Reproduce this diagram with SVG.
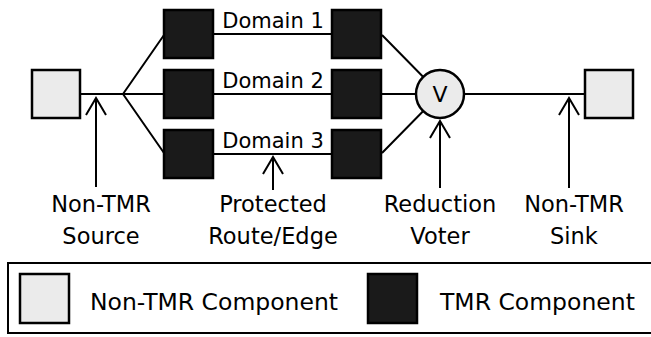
<svg xmlns="http://www.w3.org/2000/svg" width="651" height="337" viewBox="0 0 651 337">
<style>
.tmr{fill:#1a1a1a;stroke:#000;stroke-width:2.5}
.non{fill:#ebebeb;stroke:#000;stroke-width:2.5}
.wire{stroke:#000;stroke-width:2;fill:none}
.arr{stroke:#000;stroke-width:2;fill:none;marker-end:url(#open)}
text{font-family:"DejaVu Sans",sans-serif;fill:#000}
.dom{font-size:21px;text-anchor:middle}
.lbl{font-size:22.5px;text-anchor:middle}
.leg{font-size:23.5px}
</style>
<defs>
<marker id="open" markerUnits="userSpaceOnUse" markerWidth="40" markerHeight="40" refX="0" refY="0" orient="auto" overflow="visible">
<path d="M-17,-10 L0,0 L-17,10" fill="none" stroke="#000" stroke-width="2"/>
</marker>
</defs>
<g id="connectors">
<path class="wire" d="M80,94 H164 M123,94 L164,35 M123,94 L164,153"/>
<path class="wire" d="M214,34 H332 M214,94 H332 M214,154 H332"/>
<path class="wire" d="M382,35 L440,94 M382,94 H440 M382,153 L440,94 M440,94 H585"/>
<path class="arr" d="M96,187 V98"/>
<path class="arr" d="M273,190 V157"/>
<path class="arr" d="M440,188 V121"/>
<path class="arr" d="M569,188 V98"/>
</g>
<g id="source"><rect class="non" x="32" y="70" width="48" height="48"/></g>
<g id="tmr-a1"><rect class="tmr" x="164" y="10" width="49" height="48"/></g>
<g id="tmr-a2"><rect class="tmr" x="164" y="70" width="49" height="48"/></g>
<g id="tmr-a3"><rect class="tmr" x="164" y="130" width="49" height="48"/></g>
<g id="tmr-b1"><rect class="tmr" x="332" y="10" width="49" height="48"/></g>
<g id="tmr-b2"><rect class="tmr" x="332" y="70" width="49" height="48"/></g>
<g id="tmr-b3"><rect class="tmr" x="332" y="130" width="49" height="48"/></g>
<g id="voter"><circle class="non" cx="440" cy="94" r="24"/><text x="440" y="102" style="font-size:22px;text-anchor:middle">V</text></g>
<g id="sink"><rect class="non" x="585" y="70" width="48" height="48"/></g>
<g id="labels">
<text class="dom" x="273" y="28">Domain 1</text>
<text class="dom" x="273" y="88">Domain 2</text>
<text class="dom" x="273" y="148">Domain 3</text>
<text class="lbl" x="101" y="212">Non-TMR</text>
<text class="lbl" x="101" y="244">Source</text>
<text class="lbl" x="273" y="212">Protected</text>
<text class="lbl" x="273" y="244">Route/Edge</text>
<text class="lbl" x="440" y="212">Reduction</text>
<text class="lbl" x="440" y="244">Voter</text>
<text class="lbl" x="574" y="212">Non-TMR</text>
<text class="lbl" x="574" y="244">Sink</text>
</g>
<g id="legend">
<rect x="8" y="263" width="660" height="70" fill="#fff" stroke="#000" stroke-width="2"/>
<rect class="non" x="20" y="274" width="49" height="49"/>
<text class="leg" x="90" y="310">Non-TMR Component</text>
<rect class="tmr" x="368" y="274" width="49" height="49"/>
<text class="leg" x="440" y="310">TMR Component</text>
</g>
</svg>
